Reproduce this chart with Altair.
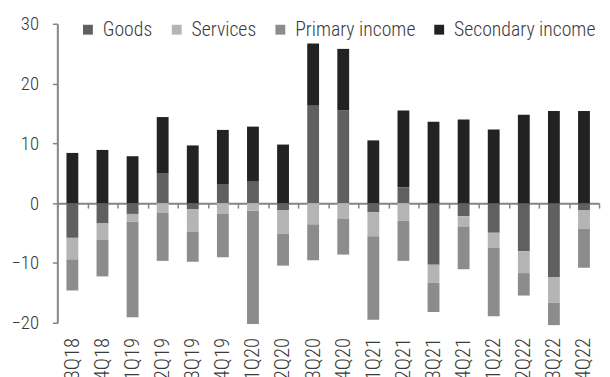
import altair as alt
import pandas as pd

quarters = ["3Q18", "4Q18", "1Q19", "2Q19", "3Q19", "4Q19", "1Q20", "2Q20", "3Q20",
            "4Q20", "1Q21", "2Q21", "3Q21", "4Q21", "1Q22", "2Q22", "3Q22", "4Q22"]
goods = [-5.8, -3.4, -1.8, 4.95, -1.05, 3.1, 3.6, -1.15, 16.3,
         15.5, -1.5, 2.65, -10.3, -2.2, -4.95, -8.05, -12.35, -1.15]
services = [-3.6, -2.75, -1.3, -1.65, -3.75, -1.8, -1.25, -3.95, -3.55,
            -2.65, -4.05, -2.95, -3.05, -1.7, -2.55, -3.65, -4.3, -3.15]
primary = [-5.2, -6.1, -16.0, -8.0, -5.0, -7.25, -18.95, -5.35, -6.0,
           -5.95, -13.95, -6.7, -4.85, -7.15, -11.4, -3.75, -3.75, -6.5]
secondary = [8.4, 8.9, 7.85, 9.45, 9.65, 9.15, 9.2, 9.8, 10.4,
             10.3, 10.5, 12.85, 13.6, 14.0, 12.3, 14.8, 15.4, 15.4]

series_names = ["Goods", "Services", "Primary income", "Secondary income"]
series_colors = ["#606060", "#b4b4b4", "#8c8c8c", "#222222"]
y_ticks = [-20, -10, 0, 10, 20, 30]

rows = []
for k, (name, vals) in enumerate(zip(series_names, [goods, services, primary, secondary])):
    for q, v in zip(quarters, vals):
        rows.append({"quarter": q, "series": name, "value": v, "order": k})
df = pd.DataFrame(rows)

FONT = "Roboto Condensed Light, Roboto Condensed, Liberation Sans Narrow, sans-serif"
TEXT = "#3a3a3a"
AXIS = "#858585"
H = 303

chart = (
    alt.Chart(df)
    .mark_bar(size=12)
    .encode(
        x=alt.X("quarter:N", sort=quarters,
                scale=alt.Scale(paddingInner=0, paddingOuter=0),
                axis=alt.Axis(title=None, orient="bottom", offset=-H * 20 / 50,
                              domainColor=AXIS, domainWidth=2,
                              tickColor=AXIS, tickWidth=1.5, tickSize=5,
                              tickBand="extent",
                              labelAngle=270, labelAlign="right", labelBaseline="middle",
                              labelPadding=131, labelFont=FONT, labelFontSize=21,
                              labelFontWeight=300, labelColor=TEXT)),
        y=alt.Y("value:Q", stack="zero",
                scale=alt.Scale(domain=[-20, 30], nice=False),
                axis=alt.Axis(title=None, values=y_ticks, grid=False,
                              domainColor=AXIS, domainWidth=2,
                              tickColor=AXIS, tickWidth=1.5, tickSize=5,
                              labelPadding=14, labelFont=FONT, labelFontSize=19,
                              labelFontWeight=300, labelColor=TEXT)),
        color=alt.Color("series:N",
                        scale=alt.Scale(domain=series_names, range=series_colors),
                        legend=alt.Legend(title=None, orient="none", legendX=21, legendY=-4,
                                          direction="horizontal", columns=4,
                                          symbolType="square", symbolSize=100,
                                          symbolStrokeWidth=0, symbolOpacity=1,
                                          labelFont=FONT, labelFontSize=20,
                                          labelFontWeight=300, labelColor=TEXT,
                                          labelOffset=5, columnPadding=14)),
        order=alt.Order("order:Q", sort="ascending"),
    )
    .properties(width=549, height=H,
                autosize=alt.AutoSizeParams(type="none"),
                padding={"left": 50, "top": 13.5, "right": 3, "bottom": 53})
    .configure_view(stroke=None)
)

chart.save("out.html", embed_options={"renderer": "svg", "actions": False})
